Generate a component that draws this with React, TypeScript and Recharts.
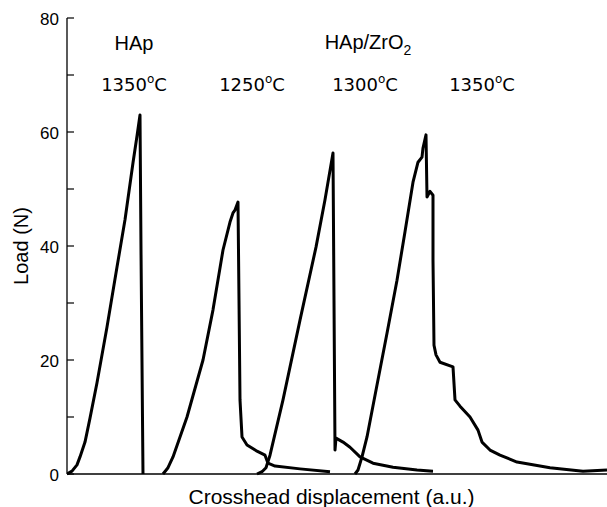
import { LineChart, Line, XAxis, YAxis, ReferenceDot } from 'recharts'

// load–displacement curves, [displacement (a.u.), load (N)]
const hap1350: [number, number][] = [
  [0, 0], [5, 0.5], [10, 1.6], [13, 3.0], [18, 5.6], [23, 9.8], [30, 16.0], [40, 25.8],
  [50, 36.3], [58, 44.6], [66, 54.6], [70, 59.3], [73, 63.0], [74, 39.3], [76, 0],
]

const zr1250: [number, number][] = [
  [96, 0], [101, 1.1], [106, 3.0], [113, 6.5], [120, 10.0], [136, 20.0], [146, 28.8],
  [156, 39.3], [163, 44.2], [166, 45.8], [168, 46.3], [171, 47.7], [172, 30.5], [173, 13.0],
  [175, 6.5], [180, 5.1], [190, 4.0], [198, 3.3], [201, 1.9], [208, 1.4], [233, 0.9], [263, 0.4],
]

const zr1300: [number, number][] = [
  [190, 0], [195, 0.4], [199, 1.1], [203, 3.3], [216, 13.0], [233, 27.0], [249, 39.8],
  [258, 48.1], [266, 56.3], [267, 30.5], [268, 4.2], [269, 6.3], [276, 5.6], [283, 4.7],
  [293, 3.0], [306, 1.9], [326, 1.2], [350, 0.7], [366, 0.5],
]

const zr1350: [number, number][] = [
  [288, 0], [291, 0.7], [295, 3.0], [300, 6.5], [310, 15.6], [320, 24.7], [330, 34.0],
  [338, 42.5], [346, 51.2], [351, 54.7], [355, 55.6], [356, 57.2], [359, 59.5], [360, 48.6],
  [363, 49.6], [366, 48.9], [366, 37.5], [367, 22.6], [369, 20.9], [373, 19.6], [386, 18.8],
  [388, 13.0], [393, 11.9], [403, 10.0], [411, 7.7], [415, 5.6], [423, 4.2], [433, 3.3],
  [450, 2.1], [483, 1.1], [516, 0.5], [540, 0.7],
]

const curves = [hap1350, zr1250, zr1300, zr1350]

const yTicks = [0, 10, 20, 30, 40, 50, 60, 70, 80]
const rightTicks = [20, 40, 60]

// material labels and sintering temperatures, placed in data units
const groupLabels = [
  { text: 'HAp', sub: '', x: 67, y: 74.4 },
  { text: 'HAp/ZrO', sub: '2', x: 301, y: 74.6 },
]
const tempLabels = [
  { t: '1350', x: 67, y: 67.2 },
  { t: '1250', x: 185, y: 67.2 },
  { t: '1300', x: 298, y: 67.2 },
  { t: '1350', x: 415, y: 67.2 },
]

const SANS = '"Liberation Sans", Arial, Helvetica, sans-serif'
const DEJAVU = '"DejaVu Sans", Verdana, sans-serif'
const GAP = 4

const LeftTick = (props: any) => {
  const { x, y, payload } = props
  const major = payload.value % 20 === 0
  return (
    <g>
      <line x1={x + GAP} x2={x + GAP + 7} y1={y} y2={y} stroke="#000" strokeWidth={1.2} />
      {major && (
        <text x={x - 4} y={y + 6.5} textAnchor="end" fontSize={17} fontFamily={SANS} fill="#000">
          {payload.value}
        </text>
      )}
    </g>
  )
}

const RightTick = (props: any) => {
  const { x, y } = props
  return <line x1={x - GAP - 6} x2={x - GAP} y1={y} y2={y} stroke="#000" strokeWidth={1.2} />
}

export default function App() {
  return (
    <div style={{ position: 'absolute', left: 0, top: 0, width: 607, height: 507, overflow: 'hidden', background: '#fff' }}>
      <LineChart width={612} height={507} margin={{ top: 18, right: 0, bottom: 3, left: 17 }}>
        <XAxis
          dataKey="disp"
          type="number"
          domain={[0, 545]}
          allowDataOverflow
          tick={false}
          tickLine={false}
          height={30}
          axisLine={{ stroke: '#000', strokeWidth: 1.3 }}
          label={(p: any) => {
            const vb = p.viewBox
            return (
              <text x={vb.x + vb.width / 2 - 8} y={vb.y + 30} textAnchor="middle" fontSize={21} fontFamily={SANS} fill="#000">
                Crosshead displacement (a.u.)
              </text>
            )
          }}
        />
        <XAxis
          xAxisId="top"
          orientation="top"
          type="number"
          domain={[0, 545]}
          tick={false}
          tickLine={false}
          height={0}
          axisLine={{ stroke: '#000', strokeWidth: 1.3 }}
        />
        <YAxis
          type="number"
          domain={[0, 80]}
          ticks={yTicks}
          width={50}
          tickSize={0}
          tickMargin={GAP}
          tick={LeftTick}
          axisLine={{ stroke: '#000', strokeWidth: 1.3 }}
          label={(p: any) => {
            const vb = p.viewBox
            const cx = vb.x + 4
            const cy = vb.y + vb.height / 2
            return (
              <text x={cx} y={cy} transform={`rotate(-90, ${cx}, ${cy})`} textAnchor="middle" dominantBaseline="central" fontSize={20} fontFamily={SANS} fill="#000">
                Load (N)
              </text>
            )
          }}
        />
        <YAxis
          yAxisId="r"
          orientation="right"
          type="number"
          domain={[0, 80]}
          ticks={rightTicks}
          width={0}
          tickSize={0}
          tickMargin={GAP}
          tick={RightTick}
          axisLine={false}
        />
        {curves.map((c, i) => (
          <Line
            key={i}
            data={c.map(([disp, load]) => ({ disp, load }))}
            dataKey="load"
            type="linear"
            stroke="#000"
            strokeWidth={3}
            strokeLinejoin="round"
            dot={false}
            activeDot={false}
            isAnimationActive={false}
          />
        ))}
        {groupLabels.map((g, i) => (
          <ReferenceDot
            key={`g${i}`}
            x={g.x}
            y={g.y}
            r={1}
            fill="none"
            stroke="none"
            label={(p: any) => (
              <text x={p.viewBox.x + 1} y={p.viewBox.y + 1} textAnchor="middle" fontSize={20} fontFamily={SANS} fill="#000">
                {g.text}
                {g.sub && <tspan dy={6} fontSize={14}>{g.sub}</tspan>}
              </text>
            )}
          />
        ))}
        {tempLabels.map((t, i) => (
          <ReferenceDot
            key={`t${i}`}
            x={t.x}
            y={t.y}
            r={1}
            fill="none"
            stroke="none"
            label={(p: any) => (
              <text x={p.viewBox.x + 1} y={p.viewBox.y + 1} textAnchor="middle" fontSize={18} fontFamily={DEJAVU} fill="#000">
                {t.t}
                <tspan dy={-8} fontSize={12}>o</tspan>
                <tspan dy={8} fontSize={18}>C</tspan>
              </text>
            )}
          />
        ))}
      </LineChart>
    </div>
  )
}
